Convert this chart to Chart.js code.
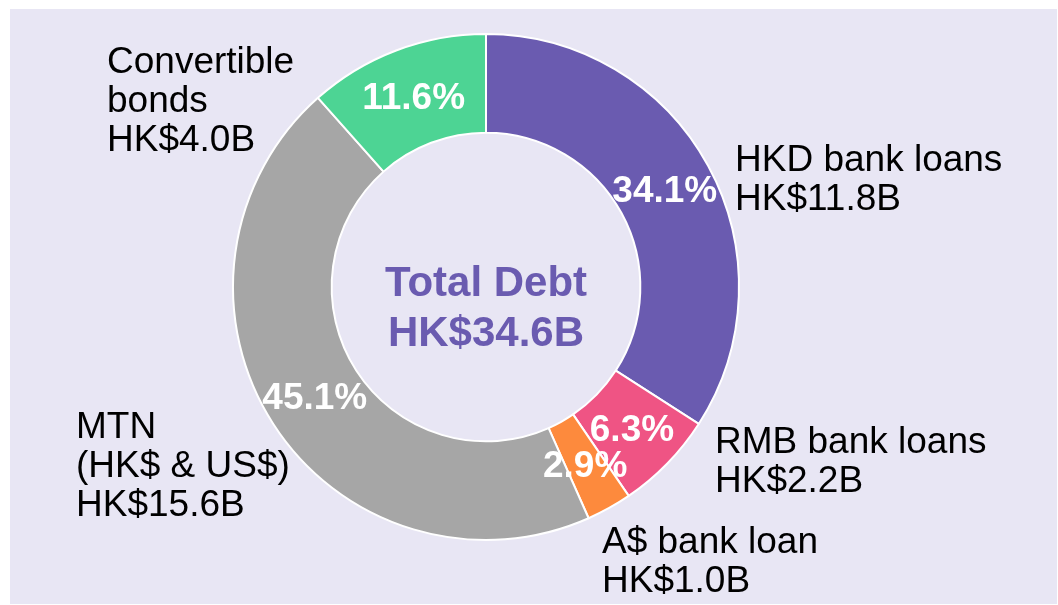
<!DOCTYPE html>
<html>
<head>
<meta charset="utf-8">
<script src="https://cdn.jsdelivr.net/npm/chart.js@4.4.0/dist/chart.umd.min.js"></script>
<style>
  html, body { margin: 0; padding: 0; background: #ffffff; }
  #panel {
    position: absolute; left: 10px; top: 9px;
    width: 1047px; height: 595px;
    background: #e8e6f4;
  }
  canvas { display: block; }
</style>
</head>
<body>
<div id="panel"><canvas id="debt" width="1047" height="595"></canvas></div>
<script>
// debt breakdown, HK$ billions
const categories = ["HKD bank loans", "RMB bank loans", "A$ bank loan", "MTN\n(HK$ & US$)", "Convertible\nbonds"];
const amounts = [11.8, 2.2, 1.0, 15.6, 4.0];
const amountLabels = ["HK$11.8B", "HK$2.2B", "HK$1.0B", "HK$15.6B", "HK$4.0B"];
const shareLabels = ["34.1%", "6.3%", "2.9%", "45.1%", "11.6%"];
const centerLines = ["Total Debt", "HK$34.6B"];
const colors = ["#6a5bb0", "#ef5484", "#fd8a3d", "#a6a6a6", "#4dd494"];

const FONT = "'Liberation Sans', Arial, sans-serif";

// where each outside label sits, offset from the donut centre (px)
const labelOffsets = [[249, -116], [229, 166], [116, 266], [-410, 151], [-379, -214]];

const labelPlugin = {
    id: "debtLabels",
    afterDatasetsDraw(chart) {
        const ctx = chart.ctx;
        const arcs = chart.getDatasetMeta(0).data;
        const cx = arcs[0].x, cy = arcs[0].y;
        ctx.save();

        // percentages in the ring
        ctx.fillStyle = "#ffffff";
        ctx.font = "bold 37px " + FONT;
        ctx.textAlign = "center";
        ctx.textBaseline = "middle";
        arcs.forEach((arc, i) => {
            const p = arc.tooltipPosition();
            ctx.fillText(shareLabels[i], p.x, p.y + 2);
        });

        // centre title
        ctx.fillStyle = "#6a5bb0";
        ctx.font = "bold 42px " + FONT;
        ctx.textBaseline = "alphabetic";
        ctx.fillText(centerLines[0], cx, cy + 9);
        ctx.fillText(centerLines[1], cx, cy + 59);

        // outside labels
        ctx.fillStyle = "#000000";
        ctx.font = "37px " + FONT;
        ctx.textAlign = "left";
        categories.forEach((name, i) => {
            const lines = name.split("\n").concat([amountLabels[i]]);
            const x = cx + labelOffsets[i][0];
            let y = cy + labelOffsets[i][1];
            lines.forEach(line => {
                ctx.fillText(line, x, y);
                y += 39;
            });
        });
        ctx.restore();
    }
};

new Chart(document.getElementById("debt"), {
    type: "doughnut",
    data: {
        labels: categories,
        datasets: [{
            data: amounts,
            backgroundColor: colors,
            borderColor: "#ffffff",
            borderWidth: 2
        }]
    },
    options: {
        responsive: false,
        animation: false,
        cutout: "61%",
        layout: { padding: { left: 222, right: 317, top: 24, bottom: 63 } },
        plugins: {
            legend: { display: false },
            tooltip: { enabled: false }
        }
    },
    plugins: [labelPlugin]
});
</script>
</body>
</html>
